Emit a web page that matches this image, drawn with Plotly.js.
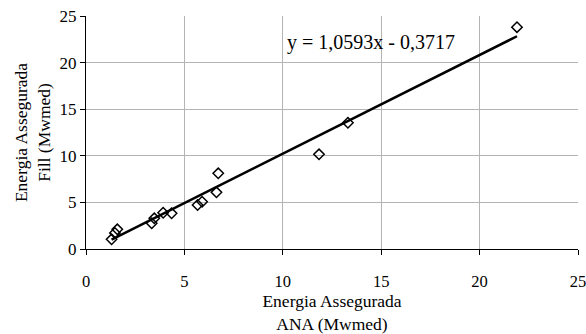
<!DOCTYPE html>
<html>
<head>
<meta charset="utf-8">
<script src="https://cdn.plot.ly/plotly-3.0.1.min.js"></script>
<style>html,body{margin:0;padding:0;background:#fff;}#chart{width:586px;height:334px;}</style>
</head>
<body>
<div id="chart"></div>
<script>
// Data
const anaValues  = [1.3, 1.47, 1.59, 3.34, 3.47, 3.92, 4.35, 5.67, 5.9, 6.63, 6.72, 11.84, 13.31, 21.9];
const fillValues = [1.04, 1.72, 2.11, 2.76, 3.29, 3.89, 3.83, 4.72, 5.07, 6.08, 8.12, 10.16, 13.55, 23.8];
const slope = 1.0593;
const intercept = -0.3717;
const tickVals = [0, 5, 10, 15, 20, 25];
const equationText = "y = 1,0593x - 0,3717";

const xMin = Math.min(...anaValues), xMax = Math.max(...anaValues);
const trendX = [xMin, xMax];
const trendY = trendX.map(x => slope * x + intercept);

const font = {family: "Liberation Serif, Times New Roman, serif", color: "#000"};
const f = s => Object.assign({size: s}, font);

const traces = [
  {x: trendX, y: trendY, mode: "lines", line: {color: "#000", width: 2.5}, hoverinfo: "skip"},
  {x: anaValues, y: fillValues, mode: "markers",
   marker: {symbol: "diamond-open", size: 8, color: "#000", line: {color: "#000", width: 1.5}}}
];

const layout = {
  width: 586, height: 334,
  margin: {l: 86, r: 8, t: 16, b: 85},
  paper_bgcolor: "#fff", plot_bgcolor: "#fff",
  showlegend: false,
  font: f(17),
  xaxis: {
    range: [0, 25], tickvals: tickVals, ticktext: tickVals.map(String),
    showgrid: true, gridcolor: "#b4b4b4", gridwidth: 1,
    zeroline: false, showline: true, linecolor: "#000", linewidth: 1,
    ticks: "outside", ticklen: 5, tickcolor: "#000", ticklabelstandoff: 12,
    ticklabeloverflow: "allow",
    tickfont: f(16.5), automargin: false,
    title: {text: "Energia Assegurada<br>ANA (Mwmed)", font: f(17.5), standoff: 1}
  },
  yaxis: {
    range: [0, 25], tickvals: tickVals, ticktext: tickVals.map(String),
    showgrid: true, gridcolor: "#b4b4b4", gridwidth: 1,
    zeroline: false, showline: true, linecolor: "#000", linewidth: 1,
    ticks: "outside", ticklen: 5, tickcolor: "#000",
    ticklabeloverflow: "allow",
    tickfont: f(17), automargin: false,
    title: {text: "Energia Assegurada<br>Fill (Mwmed)", font: f(17.5), standoff: 4}
  },
  annotations: [{
    x: 14.5, y: 22.2, xref: "x", yref: "y", text: equationText, showarrow: false,
    font: f(20)
  }]
};

Plotly.newPlot("chart", traces, layout, {displayModeBar: false, staticPlot: true});
</script>
</body>
</html>
